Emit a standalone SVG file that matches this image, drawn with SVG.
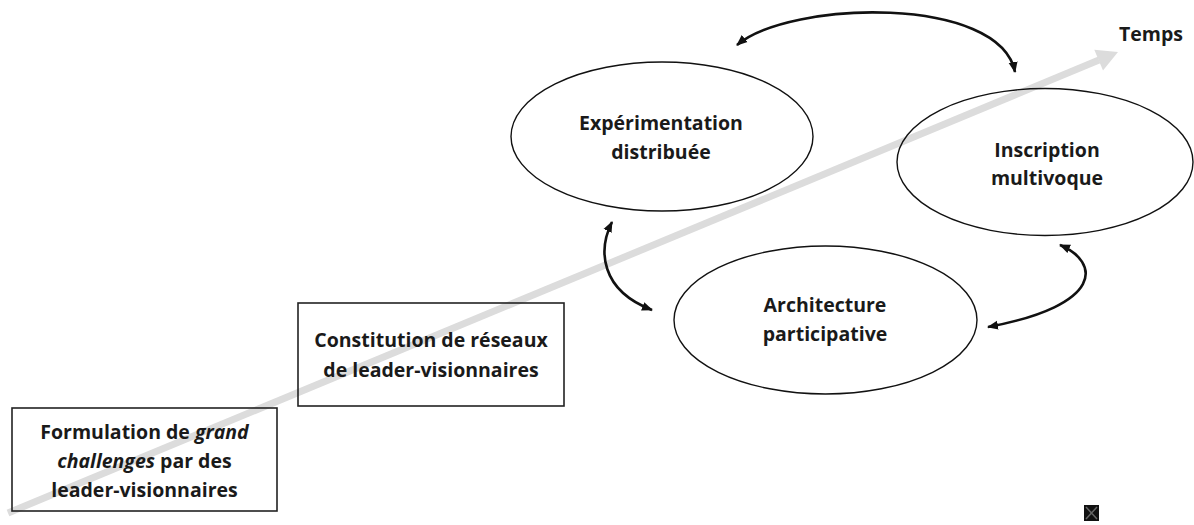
<svg xmlns="http://www.w3.org/2000/svg" width="1194" height="525" viewBox="0 0 1194 525">
<style>
  .lbl { font-family: "Open Sans", "Liberation Sans", sans-serif; font-weight: 700; font-size: 19.5px; fill: #1a1a1a; text-anchor: middle; }
  .it { font-style: italic; }
  .node { fill: none; stroke: #111; stroke-width: 1.4; }
  .box { fill: none; stroke: #222; stroke-width: 1.6; }
  .link { fill: none; stroke: #111; stroke-width: 2.6; marker-start: url(#ah); marker-end: url(#ah); }
</style>
<defs>
  <marker id="ah" markerUnits="userSpaceOnUse" markerWidth="12" markerHeight="10" refX="10" refY="4.5" orient="auto-start-reverse" viewBox="0 0 12 9">
    <path d="M0,0 L11,4.5 L0,9 z" fill="#111"/>
  </marker>
</defs>
<rect width="1194" height="525" fill="#ffffff"/>

<g id="time-axis">
  <line x1="8" y1="513" x2="1099" y2="60" stroke="#dcdcdc" stroke-width="7"/>
  <polygon points="1118,52 1094.3,49.7 1103,70.5" fill="#dcdcdc"/>
  <text class="lbl" x="1151" y="41">Temps</text>
</g>

<g id="connectors">
  <path class="link" d="M737,45 C790,0 1000,-5 1015,72"/>
  <path class="link" d="M612,222 C598,250 600,290 652,310"/>
  <path class="link" d="M1060,245 C1100,262 1105,305 988,327"/>
</g>

<g id="node-formulation">
  <rect class="box" x="12" y="408" width="265" height="103"/>
  <text class="lbl" x="144.5" y="439">Formulation de <tspan class="it">grand</tspan></text>
  <text class="lbl" x="144.5" y="468"><tspan class="it">challenges</tspan> par des</text>
  <text class="lbl" x="144.5" y="497">leader-visionnaires</text>
</g>

<g id="node-constitution">
  <rect class="box" x="298" y="303" width="266" height="103"/>
  <text class="lbl" x="431" y="347">Constitution de réseaux</text>
  <text class="lbl" x="431" y="377">de leader-visionnaires</text>
</g>

<g id="node-experimentation">
  <ellipse class="node" cx="662" cy="136.5" rx="151" ry="74.5"/>
  <text class="lbl" x="661" y="130">Expérimentation</text>
  <text class="lbl" x="661" y="159">distribuée</text>
</g>

<g id="node-inscription">
  <ellipse class="node" cx="1045" cy="162" rx="148" ry="73.5"/>
  <text class="lbl" x="1047" y="157">Inscription</text>
  <text class="lbl" x="1047" y="185">multivoque</text>
</g>

<g id="node-architecture">
  <ellipse class="node" cx="825.5" cy="320" rx="151.5" ry="74"/>
  <text class="lbl" x="825" y="312">Architecture</text>
  <text class="lbl" x="825" y="341">participative</text>
</g>

<g id="broken-image">
  <rect x="1084" y="505" width="15" height="16" fill="#111"/>
  <path d="M1086,507 L1097,519 M1097,507 L1086,519" stroke="#666" stroke-width="1.5"/>
</g>
</svg>
